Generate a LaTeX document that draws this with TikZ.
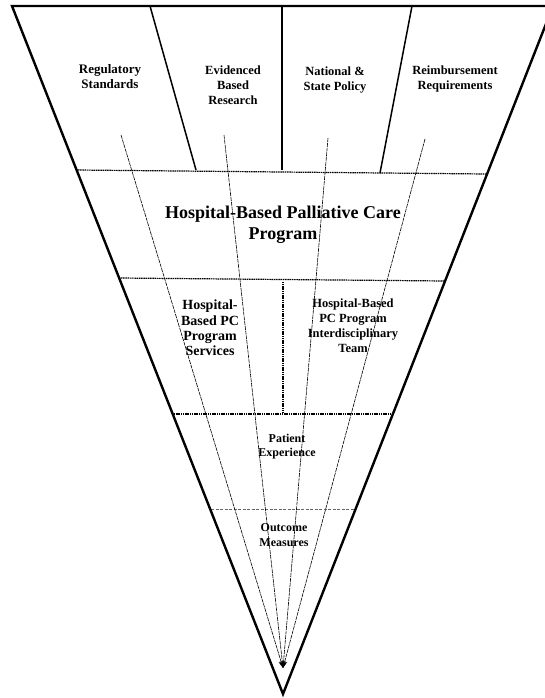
\documentclass[tikz,border=0pt]{standalone}
\usepackage{fontspec}
\setmainfont{Liberation Serif}
\usetikzlibrary{arrows.meta}
\begin{document}
\begin{tikzpicture}[x=1pt,y=-1pt,
  outer/.style={line width=2.4pt,line join=miter},
  divider/.style={line width=1.5pt},
  dotline/.style={line width=1.2pt,dash pattern=on 1.2pt off 0.6pt},
  thindash/.style={line width=0.5pt,dash pattern=on 3pt off 1.5pt,black!60},
  conv/.style={line width=0.6pt,dash pattern=on 4pt off 0.8pt,-{Stealth[length=7pt,width=5pt]}},
  lbl/.style={align=center,inner sep=0pt,font=\bfseries\fontsize{12.5}{15}\selectfont}]
\useasboundingbox (0,0) rectangle (545,698);
\clip (0,0) rectangle (545,698);
\coordinate (TL) at (12,6);
\coordinate (TR) at (553,6);
\coordinate (AP) at (283,694);
% dividers of the top band
\draw[divider] (150,6) -- (196,170);
\draw[divider] (282,6) -- (282,170);
\draw[divider] (412,6) -- (380,173);
% dotted separators
\draw[dotline] (76,170) -- (486,174);
\draw[dotline] (119,278) -- (445,281);
\draw[dotline] (283,282) -- (283,413);
\draw[dotline] (172,414) -- (393,414);
\draw[thindash] (211,509) -- (355,509);
% outer funnel
\draw[outer] (TL) -- (TR) -- (AP) -- cycle;
% labels
\node[lbl,font=\bfseries\fontsize{13}{15}\selectfont] (reg) at (110,77) {Regulatory\\Standards};
\node[lbl] (evi) at (233,85) {Evidenced\\Based\\Research};
\node[lbl] (nat) at (335,80) {National \&\\State Policy};
\node[lbl] (rei) at (455,79) {Reimbursement\\Requirements};
\node[lbl,font=\bfseries\fontsize{18}{21}\selectfont] (hbp) at (283,225) {Hospital-Based Palliative Care\\Program};
\node[lbl,font=\bfseries\fontsize{14}{15.3}\selectfont] (svc) at (210,328) {Hospital-\\Based PC\\Program\\Services};
\node[lbl] (team) at (353,326) {Hospital-Based\\PC Program\\Interdisciplinary\\Team};
\node[lbl,font=\bfseries\fontsize{12}{14}\selectfont] (pat) at (287,447) {Patient\\Experience};
\node[lbl,font=\bfseries\fontsize{12}{15}\selectfont] (out) at (284,535) {Outcome\\Measures};
% converging arrows
\coordinate (s1) at (121,135);
\coordinate (s2) at (224,135);
\coordinate (s3) at (328,138);
\coordinate (s4) at (425,139);
\coordinate (tip) at (283,668);
\foreach \s in {s1,s2,s3,s4} \draw[conv] (\s) -- (tip);
\end{tikzpicture}
\end{document}
